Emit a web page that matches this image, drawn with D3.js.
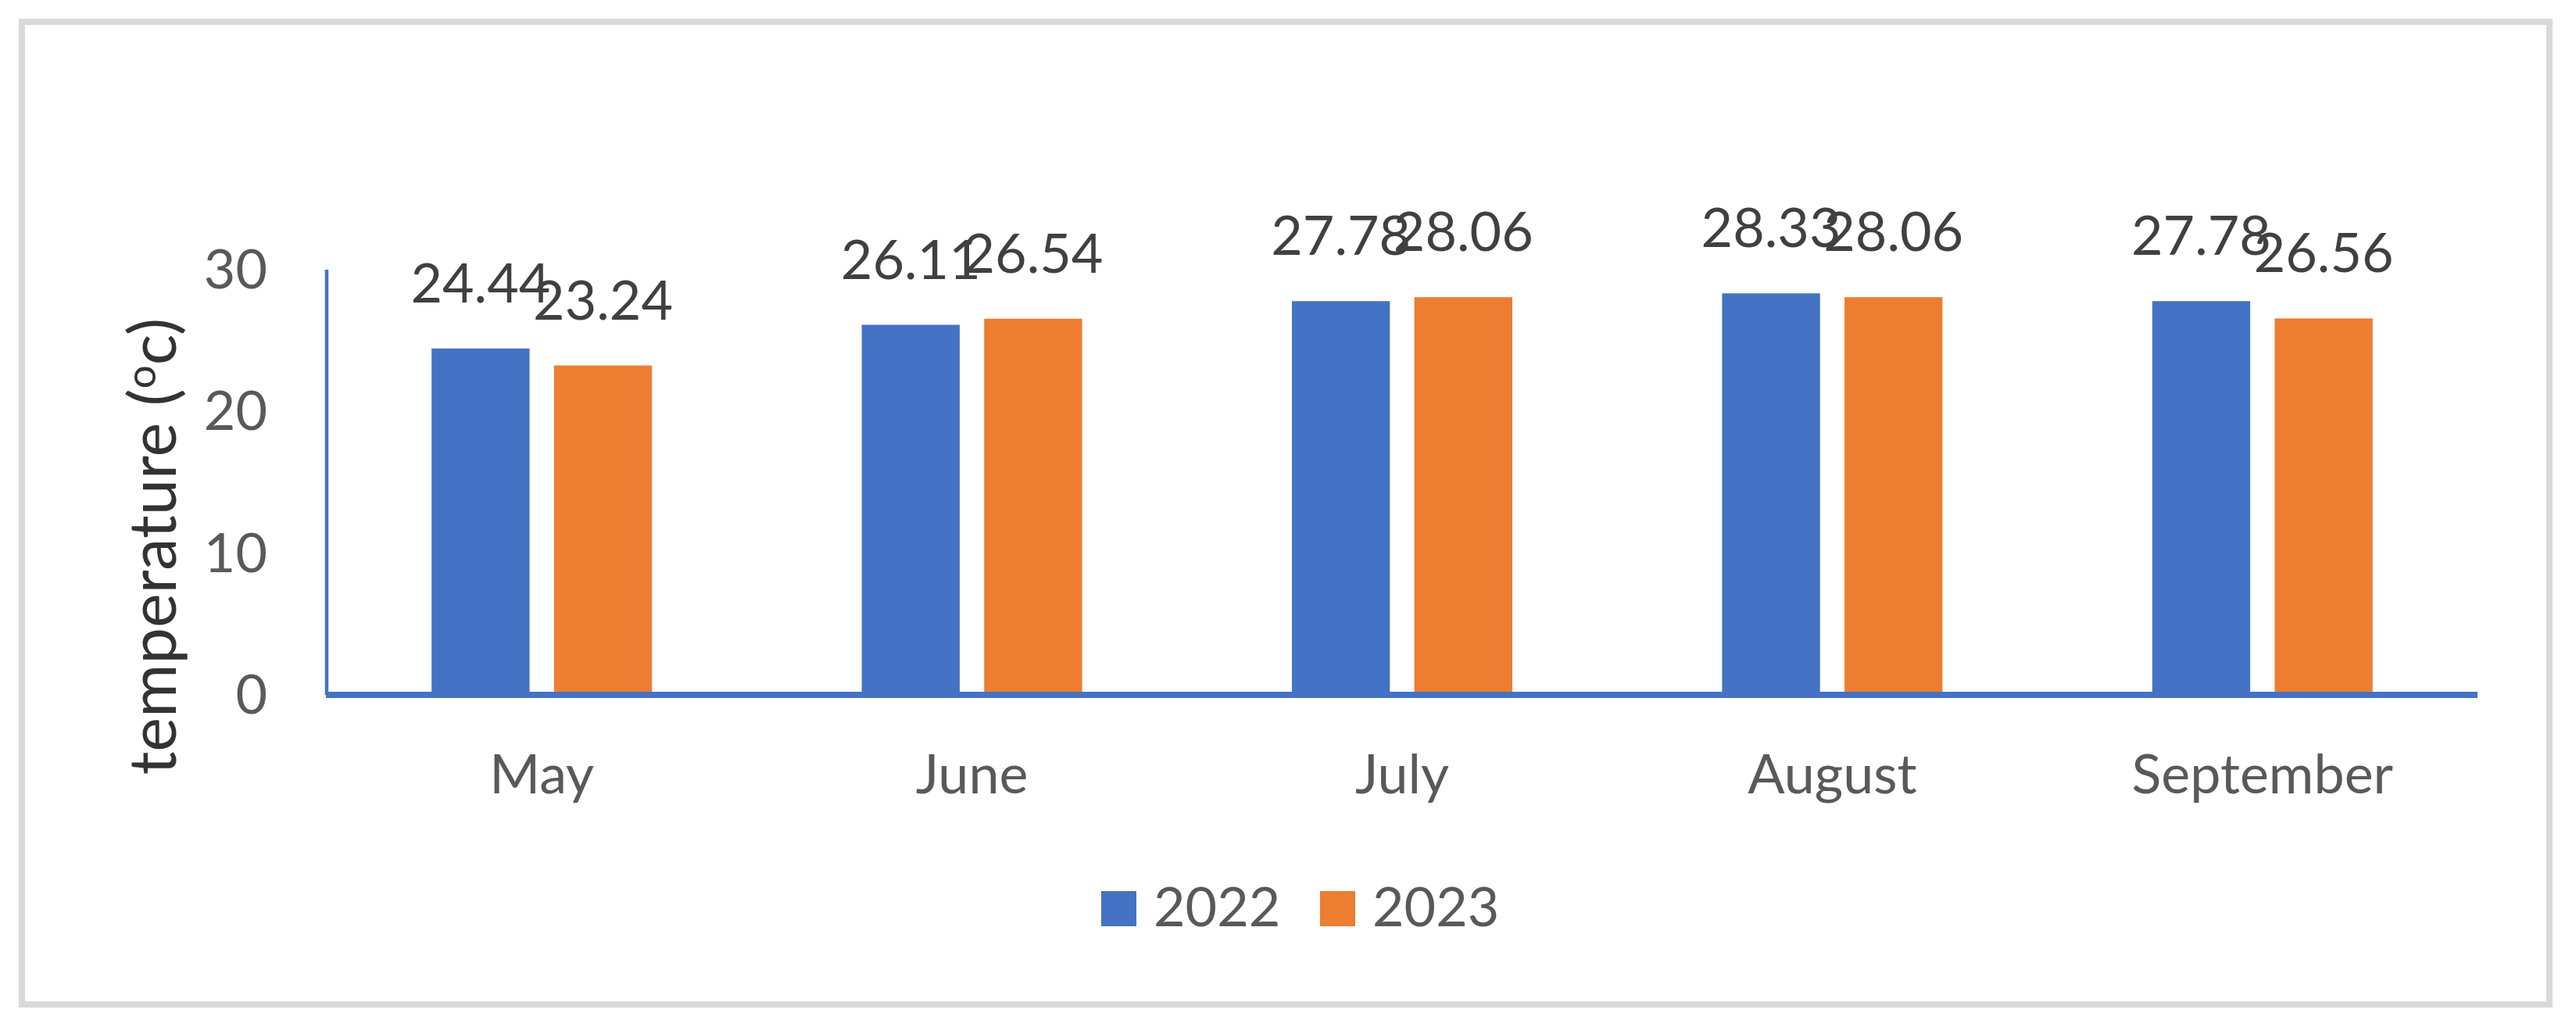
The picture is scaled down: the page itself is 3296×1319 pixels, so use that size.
<!DOCTYPE html>
<html>
<head>
<meta charset="utf-8">
<script src="https://cdn.jsdelivr.net/npm/d3@7"></script>
<style>
  html, body { margin: 0; padding: 0; background: #fff; }
  svg { display: block; font-family: Lato, "Open Sans", sans-serif; }
</style>
</head>
<body>
<svg id="chart" width="3296" height="1319"></svg>
<script>
// values
const months = ["May", "June", "July", "August", "September"];
const seriesNames = ["2022", "2023"];
const values2022 = [24.44, 26.11, 27.78, 28.33, 27.78];
const values2023 = [23.24, 26.54, 28.06, 28.06, 26.56];
const yTicks = [0, 10, 20, 30];

const colors = { "2022": "#4472C4", "2023": "#ED7D31" };

const W = 3296, H = 1319;
const m = { top: 345, right: 126, bottom: 430, left: 418 };
const iW = W - m.left - m.right;
const iH = H - m.top - m.bottom;
const fs = 70;

const rows = months.map((mo, i) => ({ month: mo, vals: [["2022", values2022[i]], ["2023", values2023[i]]] }));

const svg = d3.select("#chart");

// outer frame
svg.append("rect")
  .attr("x", 28).attr("y", 28)
  .attr("width", 3262 - 28).attr("height", 1285 - 28)
  .attr("fill", "#fff")
  .attr("stroke", "#d9d9d9").attr("stroke-width", 8);

const g = svg.append("g").attr("transform", `translate(${m.left},${m.top})`);

const x0 = d3.scaleBand().domain(months).range([0, iW]).paddingInner(0.4877).paddingOuter(0.4877 / 2);
const x1 = d3.scaleBand().domain(seriesNames).range([0, x0.bandwidth()]).paddingInner(0.2);
const y = d3.scaleLinear().domain([0, 30]).range([iH, 0]);

// bars
const groups = g.selectAll("g.grp")
  .data(rows)
  .join("g")
  .attr("class", "grp")
  .attr("transform", d => `translate(${x0(d.month)},0)`);

groups.selectAll("rect")
  .data(d => d.vals)
  .join("rect")
  .attr("x", d => x1(d[0]))
  .attr("y", d => y(d[1]))
  .attr("width", x1.bandwidth())
  .attr("height", d => iH - y(d[1]))
  .attr("fill", d => colors[d[0]]);

// data labels
groups.selectAll("text")
  .data(d => d.vals)
  .join("text")
  .attr("x", d => x1(d[0]) + x1.bandwidth() / 2)
  .attr("y", d => y(d[1]) - 59)
  .attr("text-anchor", "middle")
  .attr("font-size", fs)
  .attr("fill", "#404040")
  .text(d => d[1].toFixed(2));

// y axis line
g.append("line")
  .attr("x1", 0).attr("x2", 0)
  .attr("y1", y(30)).attr("y2", iH)
  .attr("stroke", "#4472C4").attr("stroke-width", 4.5);

// y tick labels
g.selectAll("text.ytick")
  .data(yTicks)
  .join("text")
  .attr("class", "ytick")
  .attr("x", -76)
  .attr("y", d => y(d) + 24)
  .attr("text-anchor", "end")
  .attr("font-size", fs)
  .attr("fill", "#595959")
  .text(d => d);

// x axis line
g.append("line")
  .attr("x1", -1).attr("x2", iW)
  .attr("y1", iH).attr("y2", iH)
  .attr("stroke", "#4472C4").attr("stroke-width", 8);

// category labels
g.selectAll("text.xcat")
  .data(months)
  .join("text")
  .attr("class", "xcat")
  .attr("x", d => x0(d) + x0.bandwidth() / 2)
  .attr("y", iH + 126)
  .attr("text-anchor", "middle")
  .attr("font-size", fs)
  .attr("fill", "#595959")
  .text(d => d);

// y axis title
const title = svg.append("text")
  .attr("transform", "translate(225,699) rotate(-90)")
  .attr("text-anchor", "middle")
  .attr("font-size", 83)
  .attr("fill", "#333333");
title.append("tspan").text("temperature (");
title.append("tspan").attr("font-size", 53).attr("dy", -26).text("o");
title.append("tspan").attr("dy", 26).text("c)");

// legend
const legendItems = [["2022", 1409], ["2023", 1689]];
const lg = svg.append("g");
legendItems.forEach(([name, lx]) => {
  lg.append("rect")
    .attr("x", lx).attr("y", 1140)
    .attr("width", 45).attr("height", 45)
    .attr("fill", colors[name]);
  lg.append("text")
    .attr("x", lx + 67).attr("y", 1185)
    .attr("font-size", fs)
    .attr("fill", "#595959")
    .text(name);
});
</script>
</body>
</html>
